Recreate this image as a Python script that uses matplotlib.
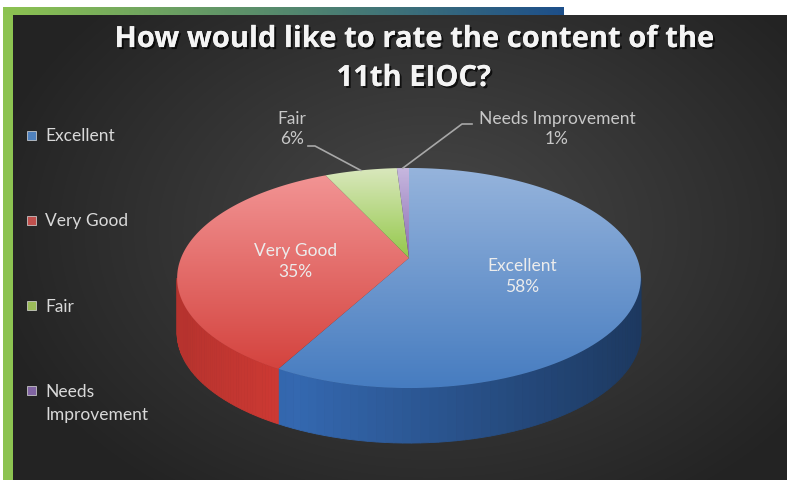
import numpy as np
import matplotlib.pyplot as plt
import matplotlib.patheffects as pe
from matplotlib.patches import Polygon, Rectangle
from matplotlib.colors import to_rgb

# chart data
categories = ['Excellent', 'Very Good', 'Fair', 'Needs Improvement']
legend_labels = ['Excellent', 'Very Good', 'Fair', 'Needs\nImprovement']
percent = [58, 35, 6, 1]
title = 'How would like to rate the content of the\n11th EIOC?'

# colours (top face light/dark, side wall, legend swatch)
top_light = ['#96b4dc', '#f29494', '#dae8be', '#c8b9e0']
top_dark = ['#467cc0', '#d4433e', '#94c84a', '#8a6cb2']
wall_base = ['#3468b0', '#d03a34', '#8cb040', '#7a5ea4']
swatch = ['#4f81bd', '#c0504d', '#9bbb59', '#8064a2']

W, H = 787, 480
font = 'Lato'

# pie geometry in pixels (perspective tilt k)
cx, cy = 409, 258
a, b = 228, 106.4
k = -0.182
depth = 55


def proj(theta, f=1.0):
    t = np.radians(theta)
    u = f*np.sin(t)
    v = -f*np.cos(t)
    d = 1 + k*v
    return cx + a*u/d, cy + b*v/d


def wall_shade(frac):
    if frac < 0.25:
        return 0.88 + 0.12*frac/0.25
    return 1.0 - 0.45*(frac - 0.25)/0.75


fig = plt.figure(figsize=(W/100, H/100), dpi=100)
ax = fig.add_axes([0, 0, 1, 1])

# dark panel with radial gradient
yy, xx = np.mgrid[15:480, 13:787]
r = np.sqrt(((xx - 430)/420.0)**2 + ((yy - 230)/300.0)**2)
g = np.clip(72 - 34*r, 35, 72)/255.0
ax.imshow(np.dstack([g, g, g]), extent=(13, 787, 480, 15), zorder=0,
          interpolation='bilinear')

# green frame + top bar
ax.add_patch(Rectangle((3, 7), 10, 473, color='#8dc351', lw=0, zorder=1))
c0 = np.array(to_rgb('#8dc351'))
c1 = np.array(to_rgb('#1d4f8a'))
s = np.linspace(0, 1, 200)[None, :, None]
bar = c0 + (c1 - c0)*s
ax.imshow(bar, extent=(3, 564, 15, 7), zorder=1, aspect='auto')

# slice angles, clockwise from 12 o'clock
edges = np.concatenate([[0], np.cumsum(percent)])/sum(percent)*360
vis_lo = np.degrees(np.arccos(k))
vis_hi = 360 - vis_lo

# side walls
for i in range(len(percent)):
    lo = max(edges[i], vis_lo)
    hi = min(edges[i+1], vis_hi)
    if lo >= hi:
        continue
    th = np.linspace(lo, hi, 60)
    base = np.array(to_rgb(wall_base[i]))
    for j in range(len(th) - 1):
        x0, y0 = proj(th[j])
        x1, y1 = proj(th[j+1])
        frac = ((x0 + x1)/2 - (cx - a))/(2*a)
        col = np.clip(base*wall_shade(frac), 0, 1)
        quad = [(x0, y0), (x1, y1), (x1, y1 + depth), (x0, y0 + depth)]
        ax.add_patch(Polygon(quad, closed=True, facecolor=col,
                             edgecolor=col, lw=0.6, zorder=2))

# top faces with vertical gradient
for i in range(len(percent)):
    th = np.linspace(edges[i], edges[i+1], 120)
    xs, ys = proj(th)
    pts = np.column_stack([np.r_[cx, xs], np.r_[cy, ys]])
    patch = Polygon(pts, closed=True, facecolor='none', edgecolor='none',
                    transform=ax.transData)
    ax.add_patch(patch)
    ytop, ybot = pts[:, 1].min(), pts[:, 1].max()
    cl = np.array(to_rgb(top_light[i]))
    cd = np.array(to_rgb(top_dark[i]))
    t = np.linspace(0, 1, 100)[:, None, None]
    grad = cl + (cd - cl)*t
    grad = np.repeat(grad, 2, axis=1)
    im = ax.imshow(grad, extent=(cx - a - 10, cx + a + 10, ybot + 1, ytop - 1),
                   aspect='auto', zorder=3, interpolation='bilinear')
    im.set_clip_path(patch)

# labels inside the big slices
for i in range(2):
    mid = (edges[i] + edges[i+1])/2
    lx, ly = proj(mid, 0.5)
    ax.text(lx, ly + 5, f'{categories[i]}\n{percent[i]}%', ha='center',
            va='center', fontsize=12.5, family=font, color='#ececec',
            linespacing=1.42, zorder=5)

# outside labels with leader lines (text centre, elbow, end of elbow)
outside = {2: ((292, 129), (315, 146), (308, 146)),
           3: ((557, 129), (462, 124), (472, 124))}
for i, (txt, elbow, tail) in outside.items():
    mid = (edges[i] + edges[i+1])/2
    rx, ry = proj(mid)
    ax.plot([rx, elbow[0], tail[0]], [ry, elbow[1], tail[1]],
            color='#a8a8a8', lw=1.2, zorder=4)
    ax.text(txt[0], txt[1], f'{categories[i]}\n{percent[i]}%', ha='center',
            va='center', fontsize=12.5, family=font, color='#c8c8c8',
            linespacing=1.35, zorder=5)

# legend
leg_x, leg_y, leg_step = 31, 135, 85.3
for i, lab in enumerate(legend_labels):
    y = leg_y + i*leg_step
    ax.add_patch(Rectangle((leg_x - 4.5, y - 4.5), 9, 9,
                           facecolor=swatch[i], edgecolor='#dddddd',
                           lw=0.5, zorder=5))
    nl = lab.count('\n')
    ax.text(leg_x + 14, y + 1 + nl*11.8, lab, ha='left', va='center',
            fontsize=12.5, family=font, color='#d9d9d9', linespacing=1.5,
            zorder=5)

# title
ax.text(414, 59, title, ha='center', va='center', fontsize=21,
        fontweight='bold', family='Open Sans', color='#f4f4f4',
        linespacing=1.45, zorder=6,
        path_effects=[pe.withSimplePatchShadow(offset=(1.5, -1.5),
                                               shadow_rgbFace='black',
                                               alpha=0.7),
                      pe.Normal()])

ax.set_xlim(0, W)
ax.set_ylim(H, 0)
ax.axis('off')
fig.savefig('out.png', dpi=100, facecolor='white')
